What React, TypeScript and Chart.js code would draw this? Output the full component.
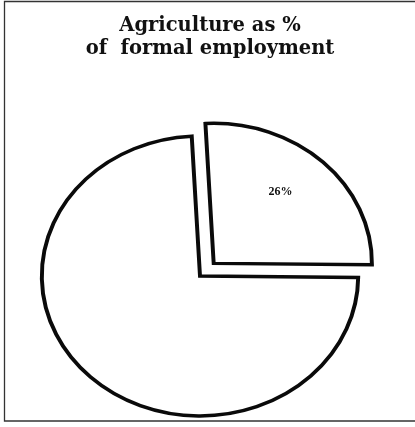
import React, { useEffect, useRef } from 'react';
import { Chart, registerables } from 'chart.js';

Chart.register(...registerables);

const titleLines = ['Agriculture as %', 'of  formal employment'];
const sliceLabels = ['Agriculture', 'Other sectors'];
const sliceValues = [26, 74];
const sliceValueText = ['26%', ''];
const sliceOffsets = [70, 0];

const X_STRETCH = 1.13;
const PIE_SHIFT_X = -10;

const framePlugin = {
  id: 'frame',
  beforeDraw(chart: any) {
    const ctx = chart.ctx;
    ctx.save();
    ctx.fillStyle = '#ffffff';
    ctx.fillRect(0, 0, chart.width, chart.height);
    ctx.strokeStyle = '#333333';
    ctx.lineWidth = 1.3;
    ctx.beginPath();
    ctx.moveTo(420, 1.5);
    ctx.lineTo(4.5, 1.5);
    ctx.lineTo(4.5, 421);
    ctx.lineTo(420, 421);
    ctx.stroke();
    ctx.restore();
  },
};

const stretchPlugin = {
  id: 'stretch',
  beforeDatasetsDraw(chart: any) {
    const arc = chart.getDatasetMeta(0).data[0];
    const ctx = chart.ctx;
    ctx.save();
    ctx.translate(arc.x + PIE_SHIFT_X, 0);
    ctx.scale(X_STRETCH, 1);
    ctx.translate(-arc.x, 0);
  },
  afterDatasetsDraw(chart: any) {
    const ctx = chart.ctx;
    ctx.restore();
    const meta = chart.getDatasetMeta(0);
    meta.data.forEach((arc: any, i: number) => {
      const text = sliceValueText[i];
      if (!text) return;
      const mid = (arc.startAngle + arc.endAngle) / 2;
      const off = sliceOffsets[i] / 4;
      const ang = mid - (4 * Math.PI) / 180;
      const r = arc.outerRadius * 0.66;
      const x = arc.x + PIE_SHIFT_X + (Math.cos(mid) * off + Math.cos(ang) * r) * X_STRETCH;
      const y = arc.y + Math.sin(mid) * off + Math.sin(ang) * r;
      ctx.save();
      ctx.fillStyle = '#111111';
      ctx.font = 'bold 12px "Liberation Serif", serif';
      ctx.textAlign = 'center';
      ctx.textBaseline = 'middle';
      ctx.fillText(text, x, y);
      ctx.restore();
    });
  },
};

export default function App() {
  const ref = useRef<HTMLCanvasElement | null>(null);

  useEffect(() => {
    if (!ref.current) return;
    const chart = new Chart(ref.current, {
      type: 'pie',
      data: {
        labels: sliceLabels,
        datasets: [
          {
            data: sliceValues,
            backgroundColor: '#ffffff',
            borderColor: '#0a0a0a',
            borderWidth: 3.5,
            borderJoinStyle: 'miter',
            offset: sliceOffsets,
            clip: false,
          } as any,
        ],
      },
      options: {
        responsive: false,
        animation: false,
        rotation: -3,
        radius: 140,
        events: [],
        layout: { padding: { left: 5, right: 0, top: 0, bottom: 0 } },
        plugins: {
          legend: { display: false },
          tooltip: { enabled: false },
          title: {
            display: true,
            text: titleLines,
            color: '#111111',
            font: { family: '"DejaVu Serif", serif', size: 19.5, weight: 'bold', lineHeight: 1.18 },
            padding: { top: 14, bottom: 65 },
          },
        },
      } as any,
      plugins: [framePlugin, stretchPlugin],
    });
    return () => chart.destroy();
  }, []);

  return (
    <div style={{ position: 'fixed', left: 0, top: 0, width: 415, height: 427, background: '#fff' }}>
      <canvas ref={ref} width={415} height={427} style={{ width: 415, height: 427, display: 'block' }} />
    </div>
  );
}
